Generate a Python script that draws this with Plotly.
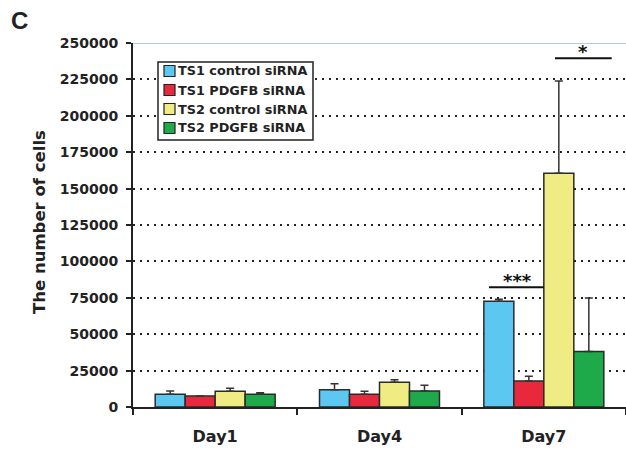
import plotly.graph_objects as go

days = ["Day1", "Day4", "Day7"]
series_names = ["TS1 control siRNA", "TS1 PDGFB siRNA", "TS2 control siRNA", "TS2 PDGFB siRNA"]
ts1_control = [8700, 11900, 72600]
ts1_pdgfb = [7500, 8700, 17900]
ts2_control = [10800, 17000, 160500]
ts2_pdgfb = [8700, 11000, 38200]
ts1_control_err = [2300, 4100, 1400]
ts1_pdgfb_err = [0, 2100, 3200]
ts2_control_err = [2000, 1700, 63400]
ts2_pdgfb_err = [1100, 3900, 36700]
colors = ["#5CC8F2", "#E8283C", "#F0EC84", "#1EAA4A"]
y_ticks = list(range(0, 250001, 25000))

values = [ts1_control, ts1_pdgfb, ts2_control, ts2_pdgfb]
errors = [ts1_control_err, ts1_pdgfb_err, ts2_control_err, ts2_pdgfb_err]

FONT = "DejaVu Sans, Verdana, sans-serif"
INK = "#222222"

# plot area in pixels
L, R, T, B = 133, 626, 43, 407
PW, PH = R - L, B - T


def px(xpix):
    return (xpix - L) / PW


def py(ypix):
    return (B - ypix) / PH


fig = go.Figure()
for name, v, e, c in zip(series_names, values, errors, colors):
    fig.add_trace(go.Bar(
        x=days, y=v, name=name, showlegend=False,
        marker=dict(color=c, line=dict(color="#2a2a2a", width=1.5)),
        error_y=dict(type="data", array=e, arrayminus=[0] * len(e), symmetric=False,
                     color="#333333", thickness=1.5, width=4),
    ))

fig.update_layout(
    width=626, height=454,
    margin=dict(l=L, r=626 - R, t=T, b=454 - B),
    paper_bgcolor="white", plot_bgcolor="white",
    barmode="group", bargap=0.27, bargroupgap=0,
    font=dict(family=FONT, color=INK),
    showlegend=False,
    xaxis=dict(
        range=[-0.5, 2.5], showline=True, linecolor=INK, linewidth=2,
        ticks="outside", tickson="boundaries", ticklen=6, tickwidth=1.5, tickcolor=INK,
        tickvals=[0, 1, 2], ticktext=["<b>%s</b>" % d for d in days],
        tickfont=dict(size=16, family=FONT, color=INK),
        ticklabelstandoff=14, showgrid=False, zeroline=False,
    ),
    yaxis=dict(
        range=[0, 250000], tickvals=y_ticks,
        ticktext=["<b>%d</b>" % t for t in y_ticks],
        tickfont=dict(size=14, family=FONT, color=INK),
        showline=True, linecolor=INK, linewidth=2,
        ticks="outside", ticklen=5, tickwidth=1.5, tickcolor=INK,
        ticklabelstandoff=5,
        showgrid=True, gridcolor=INK, gridwidth=1.5, griddash="2px,5px",
        zeroline=False,
    ),
)

# top border line
fig.add_shape(type="line", xref="paper", yref="y", x0=0, x1=1, y0=250000, y1=250000,
              line=dict(color="#9DBBC3", width=1.5), layer="above")

# legend box (drawn)
fig.add_shape(type="rect", xref="paper", yref="paper", x0=px(158), x1=px(313), y0=py(140), y1=py(62),
              fillcolor="white", line=dict(color=INK, width=1.5), layer="above")
row_y = [71, 90, 109, 128]
for name, c, ry in zip(series_names, colors, row_y):
    fig.add_shape(type="rect", xref="paper", yref="paper", x0=px(164), x1=px(175),
                  y0=py(ry + 5.5), y1=py(ry - 5.5), fillcolor=c,
                  line=dict(color=INK, width=1.2), layer="above")
    fig.add_annotation(x=px(176), y=py(ry), xref="paper", yref="paper", text="<b>%s</b>" % name,
                       xanchor="left", yanchor="middle", showarrow=False,
                       font=dict(size=12.8, family=FONT, color=INK))

# significance markers
fig.add_shape(type="line", xref="x", yref="y", x0=1.666, x1=2.0, y0=82200, y1=82200,
              line=dict(color="#111111", width=2))
fig.add_annotation(x=1.84, y=82200, xref="x", yref="y", text="<b>***</b>", showarrow=False,
                   yanchor="bottom", yshift=-6, font=dict(size=18, family=FONT, color="#111111"))
fig.add_shape(type="line", xref="x", yref="y", x0=2.068, x1=2.413, y0=239500, y1=239500,
              line=dict(color="#111111", width=2))
fig.add_annotation(x=2.24, y=239500, xref="x", yref="y", text="<b>*</b>", showarrow=False,
                   yanchor="bottom", yshift=-6, font=dict(size=18, family=FONT, color="#111111"))

# y axis title
fig.add_annotation(x=px(39), y=py(222), xref="paper", yref="paper", text="<b>The number of cells</b>",
                   textangle=-90, showarrow=False, xanchor="center", yanchor="middle",
                   font=dict(size=16.5, family=FONT, color=INK))

# panel label
fig.add_annotation(x=px(9), y=py(20), xref="paper", yref="paper", text="<b>C</b>",
                   showarrow=False, xanchor="left", yanchor="middle",
                   font=dict(size=24, family="Liberation Sans, Arial, sans-serif", color=INK))

fig.write_html("out.html", config={"displayModeBar": False},
               post_script="document.body.style.margin='0';")
